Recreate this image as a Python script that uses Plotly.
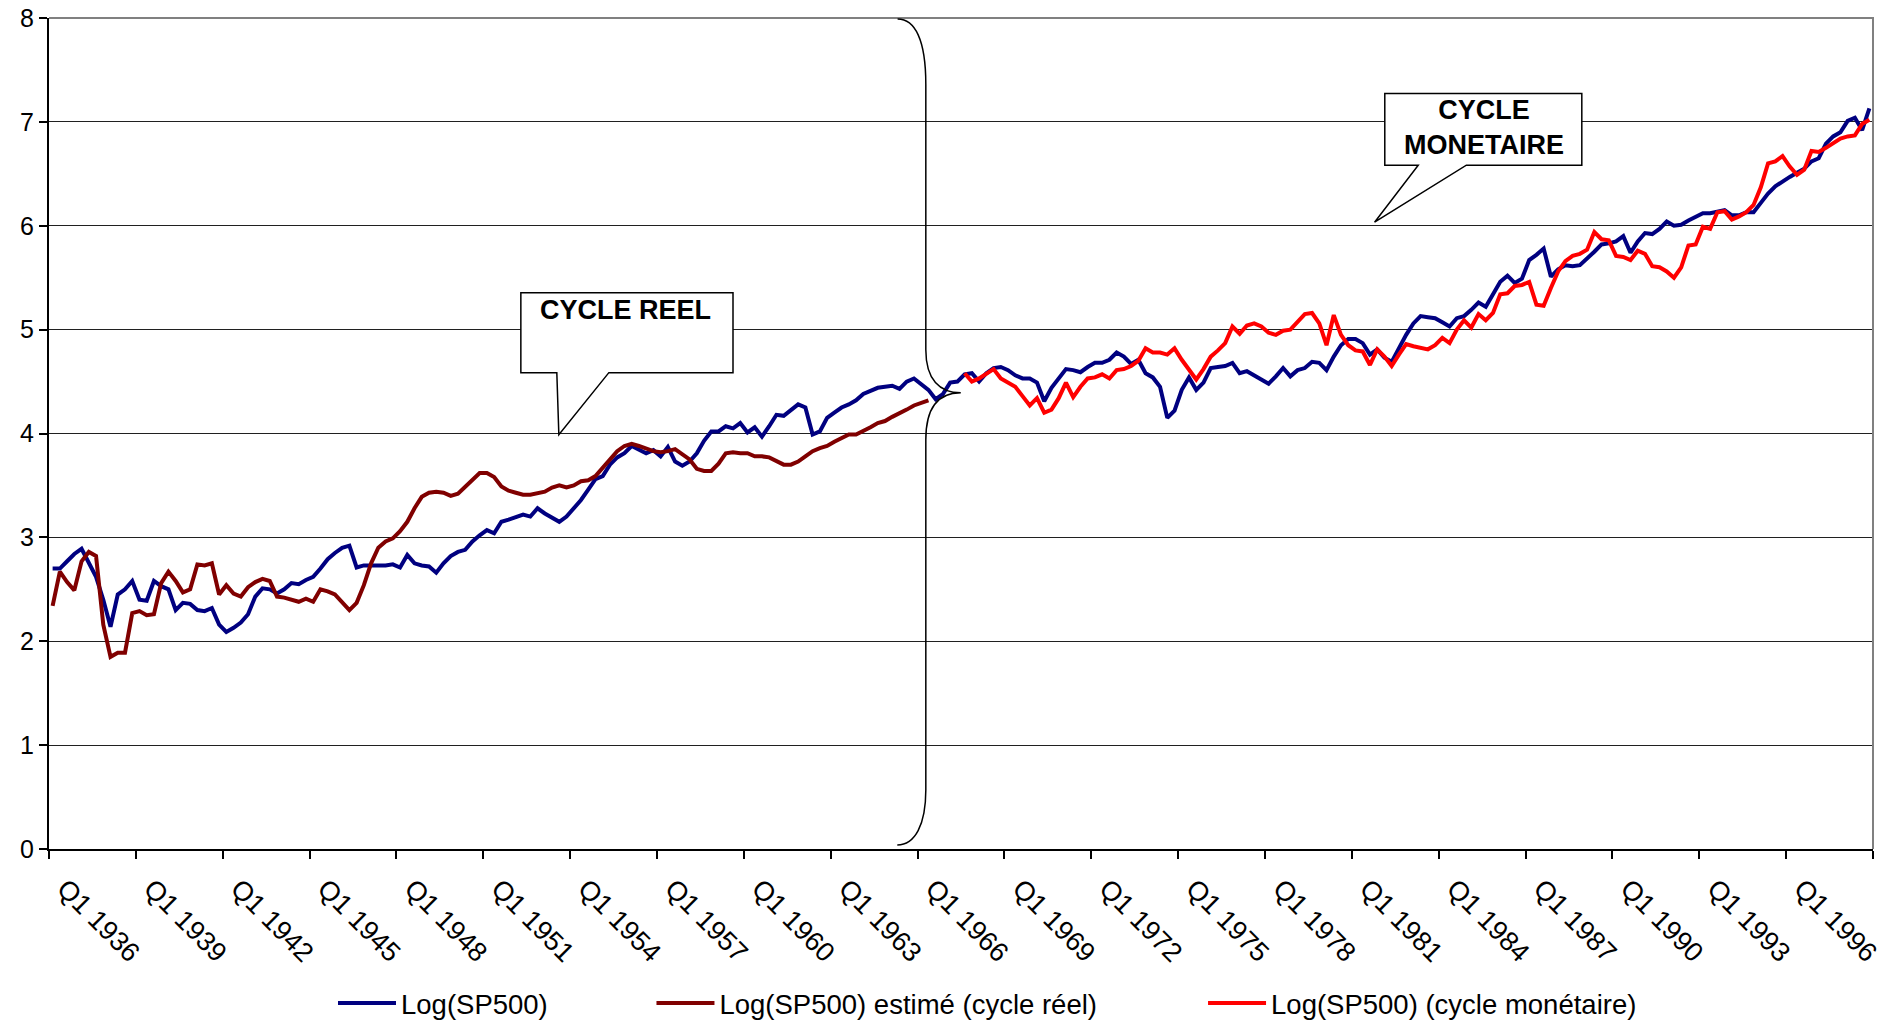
import plotly.graph_objects as go

# ---------------- data ----------------
start_year = 1936
n_quarters = 252  # Q1 1936 .. Q4 1998
quarters = [f"Q{i % 4 + 1} {start_year + i // 4}" for i in range(n_quarters)]

log_sp500 = [
    2.70, 2.70, 2.77, 2.84, 2.89, 2.75, 2.62, 2.40, 2.14, 2.45, 2.50, 2.58, 2.40, 2.39, 2.58, 2.53,
    2.50, 2.30, 2.37, 2.36, 2.30, 2.29, 2.32, 2.16, 2.09, 2.13, 2.18, 2.26, 2.43, 2.51, 2.50, 2.46,
    2.50, 2.56, 2.55, 2.59, 2.62, 2.70, 2.79, 2.85, 2.90, 2.92, 2.71,
    2.73, 2.73, 2.73, 2.73, 2.74, 2.71, 2.83, 2.75, 2.73, 2.72, 2.66, 2.75, 2.82, 2.86, 2.88, 2.96,
    3.02, 3.07, 3.04, 3.15, 3.17, 3.20, 3.22, 3.20, 3.28, 3.23, 3.19, 3.15, 3.20, 3.28, 3.36, 3.46,
    3.56, 3.59, 3.70, 3.77, 3.81, 3.88, 3.85, 3.81, 3.84, 3.78, 3.87,
    3.73, 3.69, 3.73, 3.81, 3.93, 4.02, 4.02, 4.07, 4.05, 4.10, 4.01, 4.06, 3.97, 4.07, 4.18, 4.17,
    4.22, 4.28, 4.25, 3.99, 4.02, 4.15, 4.20, 4.25, 4.28, 4.32, 4.38, 4.41, 4.44, 4.45, 4.46, 4.43,
    4.50, 4.53, 4.48, 4.42, 4.33, 4.38, 4.49, 4.50, 4.57, 4.58, 4.50,
    4.58, 4.63, 4.64, 4.61, 4.56, 4.53, 4.53, 4.49, 4.31, 4.44, 4.53, 4.62, 4.61, 4.59, 4.64, 4.68,
    4.68, 4.71, 4.78, 4.74, 4.67, 4.71, 4.58, 4.54, 4.45, 4.15, 4.22, 4.42, 4.54, 4.42, 4.49, 4.63,
    4.64, 4.65, 4.68, 4.58, 4.60, 4.56, 4.53, 4.48, 4.55, 4.63, 4.55,
    4.61, 4.63, 4.69, 4.68, 4.61, 4.74, 4.85, 4.91, 4.91, 4.87, 4.76, 4.81, 4.73, 4.69, 4.82, 4.95,
    5.06, 5.13, 5.12, 5.11, 5.07, 5.03, 5.11, 5.13, 5.19, 5.26, 5.22, 5.35, 5.46, 5.52, 5.45, 5.49,
    5.67, 5.72, 5.78, 5.51, 5.58, 5.62, 5.61, 5.62, 5.68, 5.75, 5.82,
    5.83, 5.85, 5.90, 5.74, 5.85, 5.93, 5.92, 5.97, 6.04, 6.00, 6.01, 6.05, 6.08, 6.12, 6.12, 6.14,
    6.15, 6.10, 6.10, 6.13, 6.13, 6.22, 6.31, 6.38, 6.43, 6.47, 6.51, 6.55, 6.62, 6.65, 6.79, 6.86,
    6.90, 7.01, 7.04, 6.92, 7.13,
]

# estimated, real cycle: Q1 1936 .. Q2 1966
log_sp500_reel = [
    2.34, 2.67, 2.57, 2.49, 2.77, 2.86, 2.82, 2.16, 1.85, 1.89, 1.89, 2.27, 2.29, 2.25, 2.26, 2.56,
    2.67, 2.58, 2.47, 2.50, 2.74, 2.73, 2.75, 2.45, 2.54, 2.46, 2.43, 2.52, 2.57, 2.60, 2.58, 2.43,
    2.42, 2.40, 2.38, 2.41, 2.38, 2.50, 2.48, 2.45, 2.38, 2.30, 2.37,
    2.54, 2.75, 2.90, 2.96, 2.99, 3.06, 3.15, 3.28, 3.39, 3.43, 3.44, 3.43, 3.40, 3.42, 3.49, 3.56,
    3.62, 3.62, 3.58, 3.49, 3.45, 3.43, 3.41, 3.41, 3.43, 3.44, 3.48, 3.50, 3.48, 3.50, 3.54, 3.55,
    3.59, 3.67, 3.75, 3.83, 3.88, 3.90, 3.88, 3.85, 3.83, 3.82, 3.83,
    3.85, 3.80, 3.75, 3.66, 3.64, 3.64, 3.71, 3.81, 3.82, 3.81, 3.81, 3.78, 3.78, 3.77, 3.73, 3.70,
    3.70, 3.73, 3.78, 3.83, 3.86, 3.88, 3.92, 3.96, 3.99, 3.99, 4.02, 4.06, 4.10, 4.12, 4.16, 4.19,
    4.23, 4.27, 4.30, 4.32,
]

# monetary cycle: Q3 1967 .. Q4 1998
monetaire_start = 126
log_sp500_monetaire = [
    4.58, 4.50, 4.53,
    4.57, 4.62, 4.53, 4.49, 4.45, 4.36, 4.27, 4.34, 4.20, 4.23, 4.34, 4.49, 4.35, 4.45, 4.53, 4.54,
    4.57, 4.53, 4.61, 4.62, 4.65, 4.70, 4.82, 4.78, 4.78, 4.76, 4.82, 4.71, 4.62, 4.52, 4.62, 4.74,
    4.80, 4.87, 5.03, 4.96, 5.04, 5.06, 5.03, 4.97, 4.95, 4.99, 5.00,
    5.07, 5.15, 5.16, 5.06, 4.85, 5.14, 4.95, 4.85, 4.80, 4.79, 4.66, 4.81, 4.74, 4.65, 4.76, 4.86,
    4.84, 4.82, 4.81, 4.85, 4.92, 4.87, 5.00, 5.09, 5.02, 5.15, 5.09, 5.16, 5.34, 5.35, 5.42, 5.43,
    5.46, 5.24, 5.23, 5.40, 5.56, 5.66, 5.71, 5.73, 5.77, 5.94, 5.87,
    5.86, 5.71, 5.70, 5.67, 5.76, 5.73, 5.61, 5.60, 5.56, 5.50, 5.60, 5.81, 5.82, 5.99, 5.97, 6.13,
    6.14, 6.06, 6.09, 6.13, 6.20, 6.37, 6.60, 6.62, 6.67, 6.57, 6.49, 6.54, 6.72, 6.71, 6.75, 6.80,
    6.84, 6.86, 6.87, 6.98, 7.02,
]

series_names = [
    "Log(SP500)",
    "Log(SP500) estimé (cycle réel)",
    "Log(SP500) (cycle monétaire)",
]
tick_every = 12
y_ticks = list(range(0, 9))

# ---------------- figure ----------------
FONT = "Liberation Sans, Arial, sans-serif"
idx = list(range(n_quarters))
LW = 4

fig = go.Figure()
fig.add_trace(go.Scatter(x=idx, y=log_sp500, mode="lines", name=series_names[0],
                         text=quarters, line=dict(color="#000080", width=LW), legend="legend"))
fig.add_trace(go.Scatter(x=idx[:len(log_sp500_reel)], y=log_sp500_reel, mode="lines",
                         name=series_names[1], text=quarters[:len(log_sp500_reel)],
                         line=dict(color="#800000", width=LW), legend="legend2"))
mon_x = idx[monetaire_start:monetaire_start + len(log_sp500_monetaire)]
fig.add_trace(go.Scatter(x=mon_x, y=log_sp500_monetaire, mode="lines", name=series_names[2],
                         text=quarters[monetaire_start:], line=dict(color="#FF0000", width=LW),
                         legend="legend3"))

tickvals = [k - 0.5 for k in range(0, n_quarters + 1, tick_every)]
ticktext = [quarters[k] if k < n_quarters else "" for k in range(0, n_quarters + 1, tick_every)]

shapes = [
    # plot-area border (top and right)
    dict(type="path", xref="paper", yref="paper", path="M 0,1 L 1,1 L 1,0",
         line=dict(color="#808080", width=2), layer="above"),
    # CYCLE REEL callout
    dict(type="path", xref="x", yref="y",
         path="M 64.69,5.356 L 94.0,5.356 L 94.0,4.586 L 76.85,4.586 L 69.94,3.988 "
              "L 69.66,4.586 L 64.69,4.586 Z",
         line=dict(color="black", width=1.5), fillcolor="white", layer="above"),
    # CYCLE MONETAIRE callout
    dict(type="path", xref="x", yref="y",
         path="M 184.05,7.274 L 211.27,7.274 L 211.27,6.583 L 195.32,6.583 L 182.64,6.034 "
              "L 188.67,6.583 L 184.05,6.583 Z",
         line=dict(color="black", width=1.5), fillcolor="white", layer="above"),
    # large curly brace
    dict(type="path", xref="x", yref="y",
         path="M 116.74,7.99 C 119.12,7.99 120.64,7.794 120.64,7.36 L 120.64,4.807 "
              "C 120.64,4.518 122.57,4.392 125.47,4.392 C 122.57,4.392 120.64,4.268 120.64,3.94 "
              "L 120.64,0.568 C 120.64,0.231 119.12,0.039 116.70,0.039",
         line=dict(color="black", width=1.5), layer="above"),
]

annotations = [
    dict(x=79.2, y=5.19, xref="x", yref="y", text="<b>CYCLE REEL</b>", showarrow=False,
         font=dict(family=FONT, size=27, color="black"), xanchor="center", yanchor="middle"),
    dict(x=197.7, y=6.942, xref="x", yref="y", text="<b>CYCLE<br>MONETAIRE</b>", showarrow=False,
         font=dict(family=FONT, size=27, color="black"), xanchor="center", yanchor="middle"),
]

legend_common = dict(orientation="h", yanchor="middle", y=-0.1854, xanchor="left",
                     font=dict(family=FONT, size=27.5, color="black"), bgcolor="rgba(0,0,0,0)",
                     borderwidth=0, itemwidth=58)

fig.update_layout(
    width=1899, height=1021,
    margin=dict(l=49, r=26, t=18, b=172, autoexpand=False),
    paper_bgcolor="white", plot_bgcolor="white",
    font=dict(family=FONT, color="black"),
    showlegend=True,
    legend=dict(x=0.1557, **legend_common),
    legend2=dict(x=0.3303, **legend_common),
    legend3=dict(x=0.6327, **legend_common),
    shapes=shapes,
    annotations=annotations,
    xaxis=dict(range=[-0.5, n_quarters - 0.5], tickmode="array", tickvals=tickvals,
               ticktext=ticktext, tickangle=45, ticks="outside", ticklen=8, tickcolor="black",
               tickwidth=1.5, showline=True, linecolor="black", linewidth=2, showgrid=False,
               zeroline=False, automargin=False, ticklabelshift=16, ticklabelstandoff=3,
               tickfont=dict(family=FONT, size=27, color="black")),
    yaxis=dict(range=[0, 8], tickmode="array", tickvals=y_ticks, ticks="outside", ticklen=8,
               tickcolor="black", tickwidth=1.5, showline=True, linecolor="black", linewidth=2,
               showgrid=True, gridcolor="#202020", gridwidth=1, zeroline=False, automargin=False,
               tickfont=dict(family=FONT, size=25, color="black")),
)

fig.write_html(
    "out.html",
    config={"displayModeBar": False},
    post_script="document.body.style.margin='0';document.body.style.overflow='hidden';",
)
